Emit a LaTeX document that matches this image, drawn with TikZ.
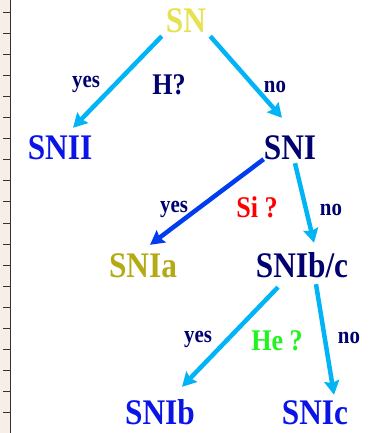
\documentclass[tikz,border=0pt]{standalone}
\usepackage{fontspec}
\setmainfont{Liberation Serif}[FakeStretch=0.87]
\usetikzlibrary{arrows.meta}
\definecolor{SNsky}{RGB}{0,180,245}
\definecolor{SNdeep}{RGB}{0,60,240}
\definecolor{SNyellow}{RGB}{230,225,80}
\definecolor{SNolive}{RGB}{180,170,20}
\definecolor{SNnavy}{RGB}{0,0,110}
\definecolor{SNblue}{RGB}{10,20,230}
\definecolor{SNred}{RGB}{255,0,0}
\definecolor{SNgreen}{RGB}{30,245,30}
\definecolor{SNpaper}{RGB}{248,238,232}

\begin{document}
\begin{tikzpicture}[x={(1pt,0)},y={(0,-1pt)},
    big/.style={font=\fontsize{36}{40}\selectfont\bfseries, anchor=base, text height=24pt, text depth=0pt, inner sep=3pt},
    quest/.style={font=\fontsize{30}{34}\selectfont\bfseries, anchor=base},
    ans/.style={font=\fontsize{24}{28}\selectfont\bfseries, anchor=base, SNnavy},
    arr/.style={line width=4.5pt, -{Stealth[length=14pt,width=15pt,inset=2pt]}, SNsky}]
        \useasboundingbox (0,0) rectangle (374,433);

        % ruler on the left edge
        \fill[SNpaper] (0,0) rectangle (10,433);
        \draw[line width=1pt, black!80] (10,0) -- (10,433);
        \foreach \t in {0,...,19}
            \draw[line width=1pt, black!80] (3,{12.5+21.05*\t}) -- (10,{12.5+21.05*\t});

        \node[big, SNyellow](sn) at (186,33){SN};
        \node[big, SNblue](snii) at (60,159){SNII};
        \node[big, SNnavy](sni) at (290,159){SNI};
        \node[big, SNolive](snia) at (143,277){SNIa};
        \node[big, SNnavy](snibc) at (302,277){SNIb/c};
        \node[big, SNblue](snib) at (160,424){SNIb};
        \node[big, SNblue](snic) at (315,424){SNIc};

        \node[quest, SNnavy](qh) at (169,95){H?};
        \node[quest, SNred](qsi) at (257,217){Si ?};
        \node[quest, SNgreen](qhe) at (277,350){He ?};

        \node[ans](y1) at (86,88){yes};
        \node[ans](n1) at (275,93){no};
        \node[ans](y2) at (174,212){yes};
        \node[ans](n2) at (331,215){no};
        \node[ans](y3) at (198,342){yes};
        \node[ans](n3) at (349,343){no};

        \draw[arr] ([xshift=-1pt]sn.south west) -- ([xshift=13pt,yshift=4pt]snii.north);
        \draw[arr] ([xshift=1pt]sn.south east) -- ([xshift=-8pt,yshift=14pt]sni.north);
        \draw[arr, SNdeep] ([xshift=3pt,yshift=3pt]sni.south west) -- ([xshift=7pt,yshift=5pt]snia.north);
        \draw[arr] ([xshift=5pt,yshift=-1pt]sni.south) -- ([xshift=12pt,yshift=7pt]snibc.north);
        \draw[arr] ([xshift=-24pt,yshift=-7pt]snibc.south) -- ([xshift=22pt,yshift=10pt]snib.north);
        \draw[arr] ([xshift=14pt,yshift=-4pt]snibc.south) -- ([xshift=19pt,yshift=2pt]snic.north);

      \end{tikzpicture}
\end{document}
